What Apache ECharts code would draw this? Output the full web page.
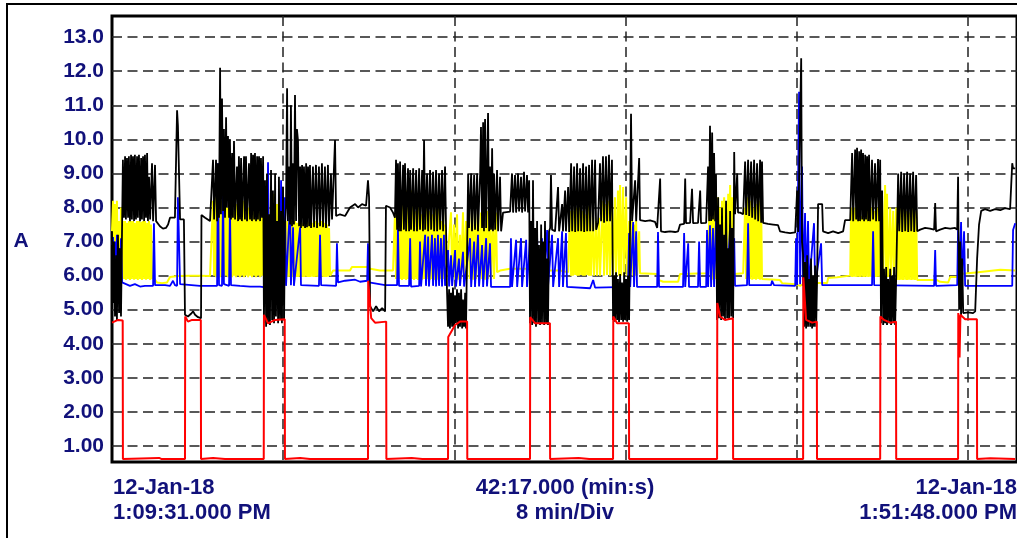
<!DOCTYPE html>
<html>
<head>
<meta charset="utf-8">
<script src="https://cdn.jsdelivr.net/npm/echarts@6/dist/echarts.min.js"></script>
<style>
  html, body { margin: 0; padding: 0; background: #fff; }
  #chart { width: 1017px; height: 538px; }
</style>
</head>
<body>
<div id="chart"></div>
<script>
// time in minutes from 12-Jan-18 1:09:31 PM, current in A
const spanMin = 42.2833; // 42:17.000
const startLabel = "12-Jan-18\n1:09:31.000 PM";
const spanLabel = "42:17.000 (min:s)\n8 min/Div";
const endLabel = "12-Jan-18\n1:51:48.000 PM";

const yellow = [
  [0.00,7.3],[0.05,8.2],[0.09,5.9],[0.14,8.1],[0.19,6.0],[0.23,8.2],[0.28,5.9],[0.33,7.6],[0.37,5.87],[0.42,8.0],[0.47,5.9],
  [0.51,7.6],[0.56,5.9],[0.61,7.6],[0.65,5.87],[0.70,7.55],[0.75,5.9],[0.79,7.6],[0.84,5.87],[0.89,7.6],[0.93,5.9],[0.98,7.6],
  [1.03,5.88],[1.07,7.55],[1.12,5.9],[1.17,7.6],[1.21,5.87],[1.26,7.6],[1.31,5.9],[1.36,7.58],[1.40,5.87],[1.45,7.6],[1.50,5.9],
  [1.54,7.6],[1.59,5.88],[1.64,7.55],[1.68,5.9],[1.73,7.6],[1.78,5.87],[1.82,7.5],[1.87,5.9],[1.92,5.96],[2.10,5.8],[2.34,5.78],
  [2.57,5.8],[2.71,5.96],[3.08,5.99],[3.64,6.0],[4.11,6.0],[4.58,5.99],
  [4.72,8.2],[4.77,6.0],[4.81,8.3],[4.86,5.95],[4.91,8.0],[4.95,6.0],[5.00,8.4],[5.05,5.95],[5.09,8.2],[5.14,6.0],[5.19,8.1],
  [5.23,5.95],[5.28,8.3],[5.33,6.0],[5.37,8.0],[5.42,5.95],[5.47,8.2],[5.51,6.0],[5.56,8.3],[5.61,5.95],[5.65,7.9],[5.70,6.0],
  [5.75,8.2],[5.79,5.95],[5.84,8.1],[5.89,6.0],[5.93,8.3],[5.98,5.95],[6.03,8.0],[6.07,6.0],[6.12,8.2],[6.17,5.95],[6.21,8.1],
  [6.26,6.0],[6.31,8.3],[6.36,5.95],[6.40,8.0],[6.45,6.0],[6.50,8.2],[6.54,5.95],[6.59,8.1],[6.64,6.0],[6.68,8.2],[6.73,5.95],
  [6.78,8.0],[6.82,6.0],[6.87,8.3],[6.92,5.95],[6.96,8.1],[7.01,6.0],[7.06,8.2],[7.10,5.95],[7.20,8.3],[7.24,6.0],[7.29,8.5],
  [7.34,5.95],[7.43,8.2],[7.48,6.0],[7.57,8.4],[7.62,5.95],[7.71,8.1],[7.76,6.0],[7.85,8.3],[7.90,5.95],[7.99,8.0],[8.04,6.0],
  [8.08,7.6],[8.13,5.96],[8.18,7.6],[8.22,5.96],[8.27,7.55],[8.32,5.97],[8.36,7.6],[8.41,5.96],[8.46,7.63],[8.50,5.97],[8.55,7.6],
  [8.60,5.96],[8.64,7.55],[8.69,5.96],[8.74,7.6],[8.79,5.97],[8.83,7.6],[8.88,5.96],[8.93,7.55],[8.97,5.96],[9.02,7.6],[9.07,5.97],
  [9.11,7.6],[9.16,5.96],[9.21,7.58],[9.25,5.96],[9.30,7.6],[9.35,5.97],[9.39,7.55],[9.44,5.96],[9.49,7.6],[9.53,5.97],[9.58,7.6],
  [9.63,5.96],[9.67,7.55],[9.72,5.96],[9.77,7.6],[9.81,5.97],[9.86,7.6],[9.91,5.96],[9.95,7.55],[10.00,5.96],[10.05,7.5],[10.09,5.97],
  [10.14,7.4],[10.19,6.0],[10.33,6.15],[11.12,6.15],[11.21,6.25],[11.92,6.25],[12.06,6.2],[12.52,6.15],[13.13,6.15],
  [13.22,7.8],[13.27,5.9],[13.32,8.0],[13.36,5.87],[13.41,7.9],[13.46,5.9],[13.50,8.1],[13.55,5.87],[13.60,8.5],[13.64,5.9],
  [13.69,8.3],[13.74,5.87],[13.79,8.5],[13.83,5.9],[13.88,8.4],[13.93,5.88],[13.97,8.5],[14.02,5.9],[14.07,8.3],[14.11,5.87],
  [14.16,7.9],[14.21,5.9],[14.25,8.1],[14.30,5.87],[14.35,8.13],[14.39,5.9],[14.44,7.8],[14.49,5.88],[14.53,8.1],[14.58,5.9],
  [14.63,8.0],[14.67,5.87],[14.72,8.13],[14.77,5.9],[14.81,7.9],[14.86,5.88],[14.91,7.98],[14.95,5.9],[15.00,7.8],[15.05,5.87],
  [15.09,7.95],[15.14,5.9],[15.19,7.7],[15.23,5.88],[15.28,7.98],[15.33,5.9],[15.37,7.6],[15.42,5.87],[15.47,7.9],[15.51,5.9],
  [15.56,7.5],[15.61,5.9],[15.84,7.86],[15.89,5.9],[15.98,7.5],[16.03,5.9],[16.12,7.8],[16.17,5.88],[16.26,7.2],[16.31,5.9],
  [16.40,7.86],[16.45,5.88],[16.54,7.6],[16.59,5.9],[16.68,7.85],[16.73,5.9],[16.82,8.0],[16.87,5.88],[16.96,7.9],[17.01,5.9],
  [17.10,8.0],[17.15,5.88],[17.24,7.85],[17.29,5.9],[17.38,8.0],[17.43,5.88],[17.52,7.9],[17.57,5.9],[17.66,8.0],[17.71,5.88],
  [17.80,7.7],[17.85,5.9],[17.94,7.85],[17.99,6.1],[18.13,6.15],[18.60,6.2],[19.53,6.2],[20.00,6.15],[20.93,6.15],[21.31,6.1],
  [21.40,7.9],[21.45,6.0],[21.50,8.07],[21.54,6.0],[21.59,7.9],[21.64,6.02],[21.68,8.0],[21.73,6.0],[21.78,7.85],[21.82,6.0],
  [21.87,8.05],[21.92,6.02],[21.96,7.9],[22.01,6.0],[22.06,8.0],[22.10,6.0],[22.15,7.8],[22.20,6.02],[22.24,8.05],[22.29,6.0],
  [22.34,7.9],[22.38,6.0],[22.48,7.72],[22.52,6.0],[22.62,7.6],[22.66,6.0],[22.76,7.7],[22.80,6.0],[22.94,8.2],[22.99,6.0],
  [23.08,8.1],[23.13,6.02],[23.22,8.2],[23.27,6.0],[23.36,8.0],[23.41,6.0],[23.50,8.3],[23.55,6.0],[23.64,8.5],[23.69,6.0],
  [23.74,8.66],[23.79,6.0],[23.88,8.6],[23.93,6.0],[24.02,8.3],[24.07,6.0],[24.16,7.6],[24.21,6.0],[24.30,7.63],[24.35,6.0],
  [24.39,7.5],[24.44,6.0],[24.49,7.6],[24.53,6.0],[24.63,7.3],[24.67,6.07],[25.47,6.05],[25.56,5.87],[25.75,5.82],[26.45,5.82],
  [26.54,6.05],[27.80,6.07],
  [27.94,8.2],[27.99,5.9],[28.04,8.3],[28.08,5.88],[28.13,8.1],[28.18,5.9],[28.22,8.2],[28.27,5.87],[28.32,8.3],[28.36,5.9],
  [28.41,8.0],[28.46,5.88],[28.50,8.2],[28.55,5.9],[28.60,8.3],[28.64,5.87],[28.69,8.1],[28.74,5.9],[28.79,8.4],[28.83,5.88],
  [28.88,8.66],[28.93,5.9],[28.97,8.3],[29.02,5.88],[29.07,6.05],[29.49,6.07],
  [29.58,8.0],[29.63,5.9],[29.67,8.3],[29.72,5.88],[29.77,8.1],[29.81,5.9],[29.86,8.2],[29.91,5.88],[29.95,8.0],[30.00,5.9],
  [30.05,8.3],[30.09,5.88],[30.14,8.1],[30.19,5.9],[30.23,8.2],[30.28,5.88],[30.33,8.0],[30.37,5.9],[30.42,5.87],[31.21,5.87],
  [31.31,5.78],[31.92,5.75],[32.15,5.7],[32.38,5.78],[33.41,5.78],[33.46,5.93],[33.88,5.95],[33.93,6.0],[34.49,6.0],
  [34.53,8.0],[34.58,5.96],[34.63,7.9],[34.67,5.97],[34.72,8.0],[34.77,5.96],[34.81,7.8],[34.86,5.97],[34.91,8.0],[34.95,5.96],
  [35.00,7.75],[35.05,5.97],[35.09,8.0],[35.14,5.96],[35.19,7.9],[35.23,5.97],[35.28,8.0],[35.33,5.96],[35.37,7.8],[35.42,5.97],
  [35.47,8.0],[35.51,5.96],[35.56,7.72],[35.61,5.97],[35.65,7.9],[35.70,5.96],[35.75,8.0],[35.79,5.97],[35.84,7.8],[35.89,5.96],
  [35.98,8.2],[36.03,5.96],[36.12,8.66],[36.17,5.97],[36.21,8.4],[36.26,5.96],[36.36,8.0],[36.40,5.97],[36.50,7.9],[36.54,5.96],
  [36.64,8.0],[36.68,5.87],[36.73,7.9],[36.78,5.87],[36.82,8.0],[36.87,5.88],[36.92,7.8],[36.96,5.87],[37.01,8.0],[37.06,5.88],
  [37.10,7.9],[37.15,5.87],[37.20,8.0],[37.24,5.88],[37.29,7.85],[37.34,5.87],[37.38,8.0],[37.43,5.88],[37.48,7.8],[37.52,5.87],
  [37.57,7.9],[37.62,5.87],[38.55,5.87],[38.69,5.82],[39.07,5.8],[39.16,5.96],[39.49,5.96],[39.63,6.05],[40.47,6.1],[40.56,6.15],
  [41.50,6.17],[42.20,6.15]
];

const blue = [
  [0.00,6.9],[0.05,7.13],[0.09,5.8],[0.14,7.0],[0.19,5.78],[0.23,7.2],[0.28,5.8],[0.33,6.8],[0.37,5.78],[0.42,7.1],[0.47,5.8],
  [0.84,5.7],[1.07,5.75],[1.31,5.68],[1.54,5.7],[1.92,5.7],[1.96,7.54],[2.01,5.72],[2.48,5.72],[2.71,5.7],[2.85,5.85],[2.94,5.72],
  [3.04,5.7],[3.08,8.3],[3.18,5.75],[4.11,5.7],[4.91,5.7],[4.95,9.3],[5.00,5.72],[5.14,5.7],[5.19,8.6],[5.23,5.75],[5.47,5.7],
  [5.51,8.07],[5.56,5.72],[5.98,5.7],[6.45,5.68],[6.92,5.68],[7.24,5.65],[7.29,9.33],[7.34,5.7],[7.48,5.68],[7.52,7.3],[7.57,5.7],
  [7.85,5.65],[7.90,8.8],[7.94,5.7],[8.08,8.3],[8.13,5.7],[8.32,8.13],[8.36,5.72],[8.46,7.42],[8.50,5.7],[8.79,7.42],[8.83,5.72],
  [9.67,5.7],[9.72,7.2],[9.77,5.72],[10.47,5.7],[10.51,6.95],[10.56,5.8],[10.89,5.85],[11.36,5.88],[11.59,5.82],[11.92,5.85],
  [11.96,6.95],[12.01,5.8],[12.76,5.72],[13.32,5.72],[13.36,7.42],[13.41,5.7],[13.88,5.7],[13.93,7.1],[13.97,5.68],[14.35,5.7],
  [14.39,7.0],[14.44,5.68],[14.63,7.2],[14.67,5.7],[14.77,7.15],[14.81,5.68],[14.95,7.2],[15.00,5.7],[15.09,7.1],[15.14,5.68],
  [15.23,7.2],[15.28,5.7],[15.37,7.1],[15.42,5.68],[15.51,7.2],[15.56,5.7],[15.70,6.75],[15.75,5.68],[15.84,6.6],[15.89,5.7],
  [16.03,6.75],[16.07,5.68],[16.21,6.5],[16.26,5.7],[16.40,6.7],[16.45,5.68],[16.73,7.1],[16.78,5.67],[16.92,7.0],[16.96,5.67],
  [17.10,7.2],[17.15,5.68],[17.29,6.9],[17.34,5.67],[17.48,7.1],[17.52,5.68],[17.66,6.95],[17.71,5.67],[18.60,5.67],[18.64,7.1],
  [18.69,5.67],[18.88,7.05],[18.93,5.67],[19.11,7.1],[19.16,5.67],[19.35,7.05],[19.39,5.67],[19.53,7.1],[19.58,5.67],[19.86,7.2],
  [19.91,5.67],[20.09,7.1],[20.14,5.67],[20.33,7.34],[20.37,5.67],[20.56,7.2],[20.61,5.67],[20.84,7.1],[20.89,5.67],[21.03,7.3],
  [21.07,5.67],[21.21,7.25],[21.26,5.67],[22.34,5.63],[22.48,5.87],[22.57,5.65],[24.11,5.67],[24.16,7.25],[24.21,5.67],[24.35,7.57],
  [24.39,5.67],[24.49,7.3],[24.53,5.67],[25.47,5.67],[25.51,7.28],[25.56,5.67],[26.68,5.67],[26.73,7.25],[26.78,5.67],[26.92,6.95],
  [26.96,5.67],[27.38,5.67],[27.43,7.0],[27.48,5.67],[27.76,5.67],[27.80,7.34],[27.85,5.67],[27.94,7.48],[27.99,5.67],[28.08,7.4],
  [28.13,5.67],[28.22,7.6],[28.27,5.7],[28.36,7.3],[28.41,5.7],[28.50,7.63],[28.55,5.7],[28.69,7.2],[28.74,5.7],[28.88,7.5],
  [28.93,5.7],[29.07,7.1],[29.11,5.7],[29.67,5.72],[29.72,7.54],[29.77,5.72],[30.79,5.72],[30.84,5.85],[30.93,5.72],[31.92,5.7],
  [31.96,7.1],[32.01,5.72],[32.06,5.75],[32.10,11.4],[32.15,5.75],[32.24,9.2],[32.29,5.7],[32.38,7.84],[32.43,5.72],[32.52,7.6],
  [32.57,5.7],[32.80,7.54],[32.85,5.7],[33.13,6.95],[33.18,5.72],[35.51,5.72],[35.56,7.3],[35.61,5.72],[38.41,5.7],[38.46,6.75],
  [38.50,5.7],[39.49,5.72],[39.53,7.42],[39.58,5.75],[39.67,7.57],[39.72,5.72],[39.81,7.3],[39.86,5.7],[42.06,5.7],[42.10,7.34],
  [42.20,7.54]
];

const black = [
  [0.00,7.3],[0.05,5.2],[0.09,7.0],[0.14,4.8],[0.19,6.6],[0.23,4.7],[0.28,7.2],[0.33,4.9],[0.37,6.8],[0.42,4.8],[0.47,7.4],
  [0.51,9.4],[0.56,7.7],[0.61,9.5],[0.65,7.65],[0.70,9.45],[0.75,7.7],[0.79,9.5],[0.84,7.6],[0.89,9.55],[0.93,7.65],[0.98,9.5],
  [1.03,7.6],[1.07,9.55],[1.12,7.65],[1.17,9.5],[1.21,7.7],[1.26,9.55],[1.31,7.6],[1.36,9.45],[1.40,7.65],[1.45,9.5],[1.50,7.6],
  [1.54,9.55],[1.59,7.7],[1.64,9.6],[1.68,7.6],[1.73,8.9],[1.78,7.65],[1.87,9.3],[1.92,7.6],[2.01,9.25],[2.06,7.6],[2.15,7.55],
  [2.24,7.45],[2.38,7.38],[2.52,7.4],[2.62,7.5],[2.71,7.7],[2.94,7.7],[3.04,10.85],[3.08,10.4],[3.18,7.65],[3.36,7.65],
  [3.41,4.85],[3.55,4.8],[3.69,4.88],[3.79,4.95],[3.88,4.85],[4.02,4.78],[4.16,4.75],[4.18,7.78],[4.35,7.7],[4.58,7.6],
  [4.72,9.4],[4.77,7.65],[4.86,9.4],[4.91,7.6],[4.95,9.3],[5.00,7.7],[5.05,12.1],[5.09,7.8],[5.14,11.2],[5.19,7.9],[5.23,10.3],
  [5.28,7.7],[5.33,10.65],[5.37,8.0],[5.42,10.1],[5.47,7.7],[5.51,10.0],[5.56,7.65],[5.61,9.6],[5.65,7.7],[5.70,9.95],[5.75,7.65],
  [5.84,9.2],[5.89,7.6],[5.93,9.5],[5.98,7.65],[6.03,9.45],[6.07,7.6],[6.17,9.5],[6.21,7.65],[6.26,9.5],[6.31,7.6],[6.40,9.3],
  [6.45,7.65],[6.50,9.6],[6.54,7.6],[6.59,9.55],[6.64,7.65],[6.68,9.6],[6.73,7.6],[6.78,9.5],[6.82,7.65],[6.87,9.5],[6.92,7.6],
  [6.96,9.45],[7.01,7.7],[7.06,9.5],
  [7.10,4.6],[7.15,8.8],[7.20,4.5],[7.24,9.0],[7.29,4.6],[7.34,7.8],[7.38,4.55],[7.43,9.1],[7.48,4.7],[7.52,8.5],[7.57,4.6],
  [7.62,9.0],[7.66,4.8],[7.71,7.6],[7.76,4.6],[7.80,8.9],[7.85,4.7],[7.90,7.9],[7.94,4.6],[7.99,8.6],[8.04,4.7],
  [8.08,7.5],[8.13,8.0],[8.18,11.5],[8.22,7.6],[8.27,9.2],[8.32,7.5],[8.36,11.0],[8.41,7.45],[8.46,9.3],[8.50,7.5],[8.55,11.3],
  [8.60,7.6],[8.64,10.3],[8.69,9.96],[8.74,7.45],[8.79,9.2],[8.83,7.4],[8.88,9.25],[8.93,7.45],[8.97,9.2],[9.02,7.4],[9.07,9.3],
  [9.11,7.42],[9.16,9.2],[9.21,7.45],[9.25,9.25],[9.30,7.4],[9.39,9.2],[9.44,7.42],[9.53,9.25],[9.58,7.4],[9.67,9.2],[9.72,7.45],
  [9.81,9.3],[9.86,7.42],[9.95,9.2],[10.00,7.4],[10.09,9.25],[10.14,7.45],[10.23,9.0],[10.28,7.65],[10.42,9.98],[10.47,7.75],
  [10.65,7.8],[10.89,7.75],[11.12,8.0],[11.36,8.1],[11.50,8.0],[11.68,8.1],[11.87,8.05],[11.96,8.8],[12.01,8.3],
  [12.06,5.1],[12.20,4.95],[12.34,5.1],[12.48,4.95],[12.62,5.05],[12.76,4.95],[12.80,8.05],[12.99,8.0],[13.13,7.85],[13.22,7.7],
  [13.27,9.4],[13.32,7.35],[13.36,9.3],[13.41,7.3],[13.46,9.35],[13.50,7.3],[13.60,9.25],[13.64,7.35],[13.69,9.3],[13.74,7.3],
  [13.83,9.15],[13.88,7.3],[13.93,9.1],[13.97,7.35],[14.07,9.15],[14.11,7.3],[14.21,9.1],[14.25,7.3],[14.35,9.15],[14.39,7.35],
  [14.49,9.1],[14.53,7.3],[14.58,9.98],[14.63,7.35],[14.72,9.0],[14.77,7.3],[14.86,9.1],[14.91,7.35],[15.00,9.05],[15.05,7.3],
  [15.14,9.1],[15.19,7.3],[15.28,9.0],[15.33,7.35],[15.42,9.1],[15.47,7.3],[15.56,9.2],[15.61,7.3],
  [15.65,5.6],[15.70,4.5],[15.75,5.6],[15.79,4.45],[15.84,5.5],[15.89,4.5],[15.93,5.65],[15.98,4.5],[16.03,5.4],[16.07,4.6],
  [16.12,5.6],[16.17,4.45],[16.21,5.5],[16.26,4.5],[16.31,5.6],[16.36,4.45],[16.40,5.3],[16.45,4.5],[16.50,5.5],[16.54,4.45],
  [16.64,9.0],[16.68,7.4],[16.78,9.0],[16.82,7.3],[16.92,8.95],[16.96,7.35],[17.06,9.0],[17.10,7.3],[17.20,9.0],[17.24,10.36],
  [17.29,7.4],[17.34,10.5],[17.38,7.3],[17.43,10.6],[17.48,7.4],[17.57,10.77],[17.62,7.3],[17.66,9.2],[17.71,7.35],[17.76,9.74],
  [17.80,7.3],[17.85,9.0],[17.90,7.35],[17.99,9.1],[18.04,7.3],[18.13,8.9],[18.18,7.3],[18.27,7.85],[18.60,7.88],
  [18.69,9.0],[18.74,7.85],[18.83,8.95],[18.88,7.85],[18.97,9.0],[19.02,7.88],[19.11,8.9],[19.16,7.85],[19.25,9.05],[19.30,7.88],
  [19.39,8.95],[19.44,7.85],[19.49,8.8],
  [19.53,4.6],[19.58,7.6],[19.63,4.55],[19.67,8.8],[19.72,4.6],[19.77,7.4],[19.81,4.5],[19.86,7.6],[19.91,4.6],[19.95,6.9],
  [20.00,4.55],[20.05,7.5],[20.09,4.6],[20.14,7.0],[20.19,4.55],[20.23,7.6],[20.28,4.6],[20.33,6.5],[20.37,4.55],[20.42,7.3],
  [20.47,7.4],[20.51,8.95],[20.56,7.35],[20.70,7.3],[20.84,8.6],[20.89,7.3],[21.03,8.1],[21.07,7.3],[21.17,8.5],[21.21,7.3],
  [21.31,8.6],[21.36,7.28],[21.45,9.3],[21.50,7.3],[21.59,9.2],[21.64,7.28],[21.73,9.3],[21.78,7.3],[21.87,9.15],[21.92,7.3],
  [22.01,9.3],[22.06,7.28],[22.15,9.2],[22.20,7.3],[22.29,9.25],[22.34,7.3],[22.43,9.4],[22.48,7.3],[22.57,9.4],[22.62,7.35],
  [22.71,7.55],[22.80,9.3],[22.85,7.6],[22.94,9.5],[22.99,7.55],[23.08,9.5],[23.13,7.6],[23.22,9.55],[23.27,7.6],[23.36,9.4],
  [23.41,4.7],[23.46,6.0],[23.50,4.65],[23.55,6.1],[23.60,4.7],[23.64,5.9],[23.69,4.64],[23.74,6.05],[23.79,4.7],[23.83,5.8],
  [23.88,4.65],[23.93,6.1],[23.97,4.7],[24.02,5.9],[24.07,4.65],[24.11,6.0],[24.16,4.7],
  [24.21,7.8],[24.25,10.75],[24.30,7.6],[24.44,8.8],[24.49,7.6],[24.63,9.45],[24.67,7.63],[24.91,7.6],[25.14,7.62],[25.37,7.58],
  [25.47,7.4],[25.56,7.35],[25.61,8.85],[25.65,7.3],[25.84,7.28],[26.07,7.3],[26.31,7.28],[26.45,7.3],[26.54,7.5],[26.73,7.52],
  [26.78,8.85],[26.82,7.54],[27.01,7.55],[27.10,8.55],[27.15,7.54],[27.38,7.55],[27.48,8.5],[27.52,7.54],[27.76,7.55],
  [27.85,9.2],[27.90,7.6],[27.94,10.4],[27.99,7.6],[28.04,10.2],[28.08,7.65],[28.13,9.6],[28.18,7.6],[28.22,9.0],
  [28.27,4.7],[28.32,8.3],[28.36,4.75],[28.41,7.5],[28.46,4.7],[28.50,8.0],[28.55,4.8],[28.60,7.2],[28.64,4.7],[28.69,8.2],
  [28.74,4.75],[28.79,6.8],[28.83,4.7],[28.88,7.9],[28.93,4.8],[28.97,7.4],[29.02,4.75],
  [29.07,9.63],[29.11,7.8],[29.21,9.0],[29.25,7.85],[29.35,7.85],[29.49,7.8],[29.58,9.35],[29.63,7.78],[29.72,9.4],[29.77,7.75],
  [29.86,9.35],[29.91,7.7],[30.00,9.4],[30.05,7.65],[30.14,9.3],[30.19,7.6],[30.28,9.4],[30.33,7.55],[30.37,9.35],[30.42,7.55],
  [30.65,7.52],[30.89,7.5],[31.12,7.48],[31.21,7.3],[31.45,7.27],[31.68,7.25],[31.92,7.27],[32.01,8.5],[32.06,7.28],[32.15,7.3],
  [32.20,12.38],[32.24,7.0],
  [32.29,6.6],[32.34,4.5],[32.38,6.4],[32.43,4.45],[32.48,6.6],[32.52,4.5],[32.57,5.9],[32.62,4.5],[32.66,6.5],[32.71,4.45],
  [32.76,6.0],[32.80,4.5],[32.85,6.3],[32.90,4.5],[32.94,5.8],
  [32.99,8.1],[33.18,8.1],[33.22,7.3],[33.46,7.25],[33.69,7.3],[33.93,7.25],[34.16,7.3],[34.25,7.63],[34.49,7.63],
  [34.58,9.6],[34.63,7.6],[34.72,9.7],[34.77,7.65],[34.81,9.75],[34.86,7.6],[34.91,9.65],[34.95,7.6],[35.00,9.7],[35.05,7.65],
  [35.09,9.6],[35.14,7.6],[35.19,9.55],[35.23,7.65],[35.28,9.5],[35.33,7.6],[35.37,9.55],[35.42,7.6],[35.51,9.4],[35.56,7.65],
  [35.65,9.3],[35.70,7.6],[35.79,9.42],[35.84,7.6],[35.89,9.4],
  [35.93,4.6],[35.98,8.5],[36.03,4.55],[36.07,6.2],[36.12,4.6],[36.17,6.25],[36.21,4.55],[36.26,5.9],[36.31,4.6],[36.36,6.2],
  [36.40,4.55],[36.45,6.0],[36.50,4.6],[36.54,6.25],[36.59,4.55],[36.64,6.0],
  [36.68,7.3],[36.73,9.0],[36.78,7.3],[36.87,9.05],[36.92,7.28],[37.01,9.0],[37.06,7.3],[37.15,9.05],[37.20,7.28],[37.29,9.0],
  [37.34,7.3],[37.43,9.05],[37.48,7.28],[37.57,8.95],[37.62,7.3],[37.76,7.35],[37.99,7.4],[38.22,7.38],[38.41,7.35],[38.46,8.13],
  [38.50,7.3],[38.69,7.35],[38.93,7.4],[39.16,7.38],[39.39,7.4],[39.49,7.35],[39.53,8.9],
  [39.58,5.0],[39.63,7.0],[39.67,4.8],[39.72,6.5],[39.77,4.9],[40.00,4.92],[40.23,4.9],[40.33,4.95],
  [40.42,6.5],[40.51,7.5],[40.61,7.9],[40.79,7.95],[41.03,7.9],[41.26,7.95],[41.50,7.92],[41.73,7.98],[41.96,7.95],[42.06,9.3],
  [42.10,9.15],[42.20,9.15]
];

const red = [
  [0.00,4.62],[0.28,4.7],[0.50,4.68],[0.51,0.62],[2.20,0.65],[2.30,0.62],[3.41,0.62],[3.42,4.8],[3.55,4.65],[3.74,4.7],[4.15,4.7],
  [4.16,0.62],[4.72,0.65],[5.28,0.62],[7.09,0.62],[7.10,4.85],[7.29,4.6],[7.62,4.7],[8.07,4.72],[8.08,0.62],[8.79,0.65],
  [9.25,0.62],[11.96,0.62],[11.97,5.85],[12.11,4.75],[12.29,4.62],[12.81,4.65],[12.82,0.62],[14.0,0.65],[14.5,0.62],
  [15.70,0.62],[15.71,4.2],[16.03,4.55],[16.26,4.65],[16.59,4.65],[16.60,0.62],[19.53,0.62],[19.54,4.78],[19.77,4.6],
  [20.46,4.6],[20.47,0.62],[21.8,0.65],[22.3,0.62],[23.41,0.62],[23.42,4.8],[23.60,4.6],[24.15,4.6],[24.16,0.62],
  [28.27,0.62],[28.28,5.2],[28.41,4.8],[28.64,4.7],[29.01,4.75],[29.02,0.62],[32.29,0.62],[32.30,5.95],[32.43,4.7],
  [32.71,4.62],[32.93,4.65],[32.94,0.62],[35.89,0.62],[35.90,4.8],[36.07,4.7],[36.36,4.62],[36.63,4.65],[36.64,0.62],
  [39.53,0.62],[39.54,4.9],[39.60,3.6],[39.64,4.85],[39.86,4.72],[40.41,4.72],[40.42,0.62],[41.03,0.64],[42.20,0.62]
];

const navy = "#11117a";
const fontFamily = "Liberation Sans, Arial, sans-serif";
const axisFont = { fontSize: 21, fontWeight: "bold", fontFamily };
const footFont = { fontSize: 22, fontWeight: "bold", fontFamily };
const gridDash = { type: [10, 5.5], color: "#222", width: 1.5 };

const chart = echarts.init(document.getElementById("chart"), null, { renderer: "canvas" });

const makeLine = (name, data, color, width) => ({
  name,
  type: "line",
  data,
  symbol: "none",
  showSymbol: false,
  sampling: null,
  lineStyle: { color, width },
  emphasis: { disabled: true },
});

chart.setOption({
  animation: false,
  backgroundColor: "#fff",
  grid: {
    left: 112,
    right: 0,
    top: 16,
    bottom: 76,
    show: true,
    borderColor: "#000",
    borderWidth: 3,
    backgroundColor: "transparent",
  },
  xAxis: {
    type: "value",
    min: 0,
    max: spanMin,
    interval: 8,
    axisLine: { show: false },
    axisTick: { show: false },
    axisLabel: { show: false },
    splitLine: { show: true, showMinLine: false, showMaxLine: false, lineStyle: gridDash },
  },
  yAxis: {
    type: "value",
    min: 0.53,
    max: 13.62,
    minInterval: 1,
    maxInterval: 1,
    axisLine: { show: false },
    axisTick: { show: false },
    axisLabel: {
      ...axisFont,
      color: navy,
      margin: 8,
      showMinLabel: false,
      showMaxLabel: false,
      formatter: (v) => (v >= 10 ? v.toFixed(1) : v.toFixed(2)),
    },
    splitLine: { show: true, showMinLine: false, showMaxLine: false, lineStyle: gridDash },
  },
  graphic: [
    {
      type: "rect",
      silent: true,
      shape: { x: 7, y: 4, width: 1100, height: 600 },
      style: { fill: "none", stroke: "#000", lineWidth: 2 },
    },
    {
      type: "text",
      x: 21,
      y: 241,
      style: { text: "A", ...axisFont, fill: navy, textAlign: "center", textVerticalAlign: "middle" },
    },
    {
      type: "text",
      x: 113,
      y: 475,
      style: { text: startLabel, ...footFont, lineHeight: 25, fill: navy, textAlign: "left", textVerticalAlign: "top" },
    },
    {
      type: "text",
      x: 565,
      y: 475,
      style: { text: spanLabel, ...footFont, lineHeight: 25, fill: navy, textAlign: "center", textVerticalAlign: "top" },
    },
    {
      type: "text",
      x: 1017,
      y: 475,
      style: { text: endLabel, ...footFont, lineHeight: 25, fill: navy, textAlign: "right", textVerticalAlign: "top" },
    },
  ],
  series: [
    makeLine("yellow", yellow, "#ffff00", 2),
    makeLine("blue", blue, "#0000ff", 1.8),
    makeLine("black", black, "#000000", 1.8),
    makeLine("red", red, "#ff0000", 2),
  ],
});
</script>
</body>
</html>
